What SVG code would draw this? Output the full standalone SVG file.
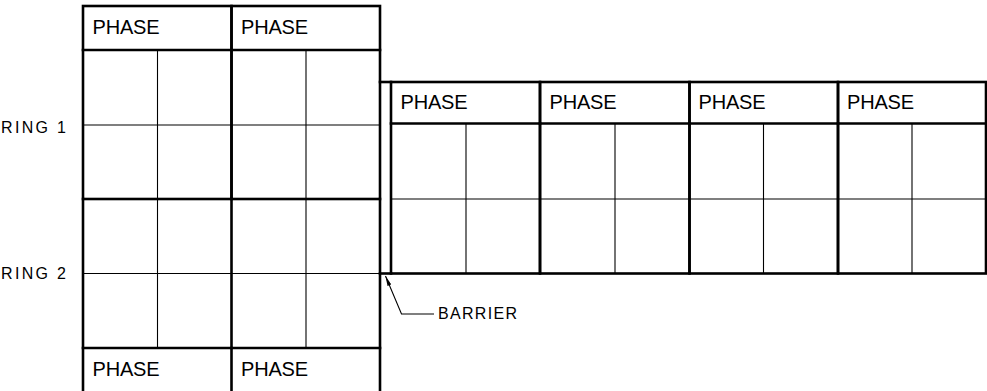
<svg xmlns="http://www.w3.org/2000/svg" width="987" height="391" viewBox="0 0 987 391">
<style>
.thick{fill:none;stroke:#000;stroke-width:2.6;stroke-linecap:square}
.thin{fill:none;stroke:#000;stroke-width:1.1}
.ph{font-family:"Liberation Sans",Arial,sans-serif;font-size:20px;fill:#000}
.lb{font-family:"Liberation Sans",Arial,sans-serif;font-size:16px;fill:#000}
</style>
<defs>
<marker id="arr" viewBox="0 0 10 4" refX="10" refY="2" markerWidth="10" markerHeight="4" markerUnits="userSpaceOnUse" orient="auto">
<path d="M0,0 L10,2 L0,4 Z" fill="#000"/>
</marker>
</defs>
<rect width="987" height="391" fill="#fff"/>

<g id="ring-labels">
<text class="lb" x="1" y="133" textLength="65">RING 1</text>
<text class="lb" x="1" y="278.5" textLength="65">RING 2</text>
</g>

<g id="left-ring1-phaseA">
<line class="thin" x1="157.5" y1="50" x2="157.5" y2="199"/>
<line class="thin" x1="83" y1="125" x2="231.5" y2="125"/>
<rect class="thick" x="83" y="6" width="148.5" height="193"/>
<line class="thick" x1="83" y1="50" x2="231.5" y2="50"/>
<text class="ph" x="92.5" y="34" textLength="67">PHASE</text>
</g>
<g id="left-ring1-phaseB">
<line class="thin" x1="306" y1="50" x2="306" y2="199"/>
<line class="thin" x1="231.5" y1="125" x2="380" y2="125"/>
<rect class="thick" x="231.5" y="6" width="148.5" height="193"/>
<line class="thick" x1="231.5" y1="50" x2="380" y2="50"/>
<text class="ph" x="241" y="34" textLength="67">PHASE</text>
</g>
<g id="left-ring2-phaseA">
<line class="thin" x1="157.5" y1="199" x2="157.5" y2="348"/>
<line class="thin" x1="83" y1="273.5" x2="231.5" y2="273.5"/>
<line class="thick" x1="83" y1="199" x2="83" y2="392"/>
<line class="thick" x1="83" y1="348" x2="231.5" y2="348"/>
<text class="ph" x="92.5" y="376" textLength="67">PHASE</text>
</g>
<g id="left-ring2-phaseB">
<line class="thin" x1="306" y1="199" x2="306" y2="348"/>
<line class="thin" x1="231.5" y1="273.5" x2="380" y2="273.5"/>
<line class="thick" x1="231.5" y1="199" x2="231.5" y2="392"/>
<line class="thick" x1="380" y1="199" x2="380" y2="392"/>
<line class="thick" x1="231.5" y1="348" x2="380" y2="348"/>
<text class="ph" x="241" y="376" textLength="67">PHASE</text>
</g>

<g id="barrier">
<line class="thick" x1="380" y1="82" x2="391" y2="82"/>
<line class="thick" x1="380" y1="273.5" x2="391" y2="273.5"/>
</g>

<g id="right-phase1">
<line class="thin" x1="466" y1="123.5" x2="466" y2="273.5"/>
<line class="thin" x1="391" y1="199" x2="540" y2="199"/>
<rect class="thick" x="391" y="82" width="149" height="191.5"/>
<line class="thick" x1="391" y1="123.5" x2="540" y2="123.5"/>
<text class="ph" x="400.5" y="109" textLength="67">PHASE</text>
</g>
<g id="right-phase2">
<line class="thin" x1="615" y1="123.5" x2="615" y2="273.5"/>
<line class="thin" x1="540" y1="199" x2="689.5" y2="199"/>
<rect class="thick" x="540" y="82" width="149.5" height="191.5"/>
<line class="thick" x1="540" y1="123.5" x2="689.5" y2="123.5"/>
<text class="ph" x="549.5" y="109" textLength="67">PHASE</text>
</g>
<g id="right-phase3">
<line class="thin" x1="763.5" y1="123.5" x2="763.5" y2="273.5"/>
<line class="thin" x1="689.5" y1="199" x2="838" y2="199"/>
<rect class="thick" x="689.5" y="82" width="148.5" height="191.5"/>
<line class="thick" x1="689.5" y1="123.5" x2="838" y2="123.5"/>
<text class="ph" x="698.5" y="109" textLength="67">PHASE</text>
</g>
<g id="right-phase4">
<line class="thin" x1="912" y1="123.5" x2="912" y2="273.5"/>
<line class="thin" x1="838" y1="199" x2="986" y2="199"/>
<rect class="thick" x="838" y="82" width="148" height="191.5"/>
<line class="thick" x1="838" y1="123.5" x2="986" y2="123.5"/>
<text class="ph" x="847" y="109" textLength="67">PHASE</text>
</g>

<g id="connectors">
<polyline class="thin" points="434,314 401.5,314 385.5,276" marker-end="url(#arr)"/>
</g>
<g id="barrier-label">
<text class="lb" x="438" y="319" textLength="79">BARRIER</text>
</g>
</svg>
